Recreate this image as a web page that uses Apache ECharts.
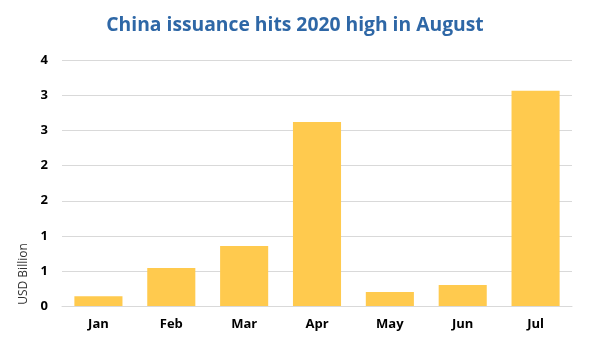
<!DOCTYPE html>
<html><head><meta charset="utf-8">
<script src="https://cdn.jsdelivr.net/npm/echarts@6/dist/echarts.min.js"></script>
<style>html,body{margin:0;padding:0;background:#fff}#c{width:590px;height:344px}</style>
</head><body><div id="c"></div>
<script>
const categories = ['Jan','Feb','Mar','Apr','May','Jun','Jul'];
const values = [0.14, 0.54, 0.855, 2.625, 0.20, 0.30, 3.07];
const titleText = 'China issuance hits 2020 high in August';
const yAxisName = 'USD Billion';

const chart = echarts.init(document.getElementById('c'));
chart.setOption({
  animation: false,
  title: {
    text: titleText, left: 'center', top: 11,
    textStyle: {fontFamily: 'Open Sans', fontWeight: 'bold', fontSize: 19.3, color: '#2E67A6'}
  },
  grid: {left: 62, right: 18, top: 60.5, bottom: 38, containLabel: false},
  xAxis: {
    type: 'category', data: categories,
    axisLine: {lineStyle: {color: '#D9D9D9'}},
    axisTick: {show: false},
    axisLabel: {color: '#000', fontWeight: 'bold', fontSize: 13, fontFamily: 'Open Sans', margin: 12}
  },
  yAxis: {
    type: 'value', min: 0, max: 3.5, interval: 0.5,
    axisLine: {show: false}, axisTick: {show: false},
    splitLine: {lineStyle: {color: '#D9D9D9'}},
    axisLabel: {color: '#000', fontWeight: 'bold', fontSize: 13, fontFamily: 'Open Sans', margin: 14,
      formatter: v => String(Math.round(v + 1e-9))}
  },
  graphic: [{
    type: 'text', x: 24, y: 274, rotation: Math.PI / 2,
    style: {text: yAxisName, fontSize: 12, fontFamily: 'Open Sans', fill: '#333', align: 'center', verticalAlign: 'middle'}
  }],
  series: [{
    type: 'bar', data: values, barCategoryGap: '34%',
    itemStyle: {color: '#FFCA4E'}
  }]
});
</script></body></html>
